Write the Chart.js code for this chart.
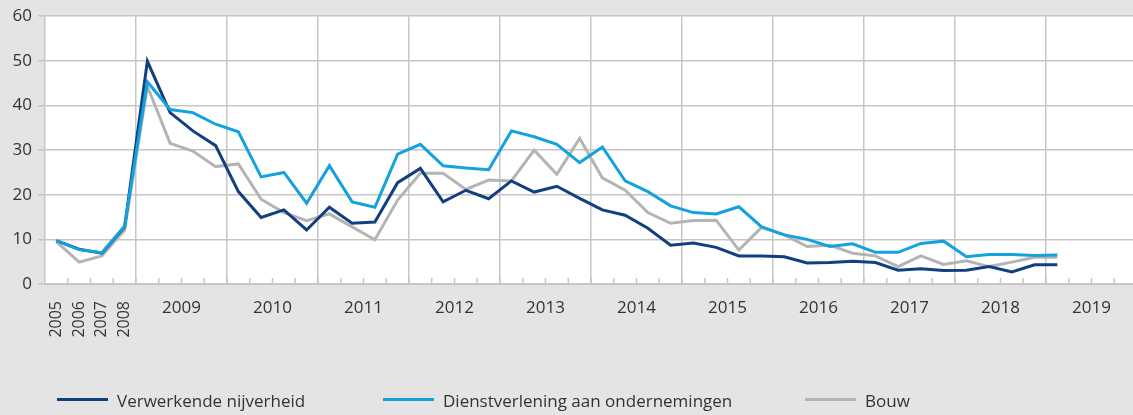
<!DOCTYPE html>
<html>
<head>
<meta charset="utf-8">
<script src="https://cdn.jsdelivr.net/npm/chart.js@4.4.0/dist/chart.umd.min.js"></script>
<style>
  html, body { margin: 0; padding: 0; background: #e4e4e4; overflow: hidden; }
  #wrap { position: relative; width: 1137px; height: 415px; }
  .leg { position: absolute; top: 390px; height: 22px; font: 17px "Open Sans", sans-serif; color: #333; }
  .leg span.line { position: absolute; left: 0; top: 8px; width: 51px; height: 3px; }
  .leg span.txt { position: absolute; left: 60px; top: -1px; white-space: nowrap; }
</style>
</head>
<body>
<div id="wrap">
  <canvas id="c" width="1137" height="415"></canvas>
  <div class="leg" style="left:57px"><span class="line" style="background:#123f80"></span><span class="txt">Verwerkende nijverheid</span></div>
  <div class="leg" style="left:383px"><span class="line" style="background:#14a2de"></span><span class="txt">Dienstverlening aan ondernemingen</span></div>
  <div class="leg" style="left:805px"><span class="line" style="background:#b4b4b4"></span><span class="txt">Bouw</span></div>
</div>
<script>
// 2005-2008 annual, then quarterly from 2009
let annual = ['2005', '2006', '2007', '2008'];
let quarterYears = ['2009', '2010', '2011', '2012', '2013', '2014', '2015', '2016', '2017', '2018', '2019'];

let labels = annual.slice();
quarterYears.forEach(y => { for (let q = 1; q <= 4; q++) labels.push(y + ' K' + q); });

let verwerkend = [9.7, 7.8, 6.9, 12.8,
  49.9, 38.4, 34.3, 31.0, 20.7, 14.9, 16.6, 12.1, 17.2, 13.6, 13.9,
  22.7, 25.9, 18.4, 21.0, 19.1, 23.1, 20.6, 21.9, 19.2, 16.6, 15.4, 12.5, 8.7,
  9.2, 8.2, 6.3, 6.3, 6.1, 4.7, 4.8, 5.1, 4.8, 3.1, 3.4, 3.0, 3.1, 3.9, 2.7, 4.3, 4.3];
let dienstverlening = [9.7, 7.7, 7.0, 13.0,
  45.3, 39.1, 38.4, 35.8, 34.1, 24.0, 25.0, 18.1, 26.5, 18.4, 17.2,
  29.1, 31.3, 26.5, 26.0, 25.6, 34.3, 33.0, 31.3, 27.2, 30.7, 23.1, 20.7, 17.5,
  16.0, 15.7, 17.3, 12.8, 11.0, 10.0, 8.4, 9.0, 7.1, 7.1, 9.1, 9.6, 6.1, 6.6, 6.6, 6.4, 6.5];
let bouw = [9.5, 4.9, 6.3, 12.1,
  44.3, 31.5, 29.8, 26.3, 26.9, 19.0, 16.0, 14.2, 15.7, 12.8, 9.9,
  18.8, 24.8, 24.8, 21.2, 23.3, 23.1, 30.0, 24.6, 32.6, 23.8, 21.0, 16.0, 13.6,
  14.2, 14.3, 7.6, 12.7, 11.0, 8.4, 8.7, 6.9, 6.3, 3.9, 6.3, 4.4, 5.2, 3.9, 4.9, 6.0, 6.0];

const gridGray = '#c6c6c6';
const textCol = '#333333';

const plotBg = {
  id: 'plotBg',
  beforeDraw(chart) {
    const a = chart.chartArea, ctx = chart.ctx;
    ctx.save();
    ctx.fillStyle = '#ffffff';
    ctx.fillRect(a.left, a.top, a.right - a.left, a.bottom - a.top);
    ctx.restore();
  }
};

const xLabels = {
  id: 'xLabels',
  afterDraw(chart) {
    const x = chart.scales.x, ctx = chart.ctx, a = chart.chartArea;
    const half = (x.getPixelForValue(1) - x.getPixelForValue(0)) / 2;
    ctx.save();
    // small inner tick marks at category boundaries
    ctx.strokeStyle = gridGray;
    ctx.lineWidth = 1.5;
    for (let i = 0; i < labels.length; i++) {
      const px = x.getPixelForValue(i) + half;
      ctx.beginPath();
      ctx.moveTo(px, a.bottom);
      ctx.lineTo(px, a.bottom - 6);
      ctx.stroke();
    }
    ctx.fillStyle = textCol;
    // rotated annual labels
    ctx.font = '16px "Open Sans", sans-serif';
    annual.forEach((lab, i) => {
      ctx.save();
      ctx.translate(x.getPixelForValue(i), a.bottom + 17);
      ctx.rotate(-Math.PI / 2);
      ctx.textAlign = 'right';
      ctx.textBaseline = 'middle';
      ctx.fillText(lab, 0, 0);
      ctx.restore();
    });
    // horizontal year labels centred on each year
    ctx.font = '17px "Open Sans", sans-serif';
    ctx.textAlign = 'center';
    ctx.textBaseline = 'middle';
    quarterYears.forEach((lab, k) => {
      const i = annual.length + k * 4;
      const px = (x.getPixelForValue(i + 1) + x.getPixelForValue(i + 2)) / 2;
      ctx.fillText(lab, px, a.bottom + 24);
    });
    ctx.restore();
  }
};

new Chart(document.getElementById('c'), {
  type: 'line',
  data: {
    labels: labels,
    datasets: [
      { label: 'Verwerkende nijverheid', data: verwerkend, borderColor: '#123f80', order: 1 },
      { label: 'Dienstverlening aan ondernemingen', data: dienstverlening, borderColor: '#14a2de', order: 0 },
      { label: 'Bouw', data: bouw, borderColor: '#b4b4b4', order: 2 }
    ]
  },
  options: {
    responsive: false,
    animation: false,
    devicePixelRatio: 1,
    layout: { padding: { top: 16, right: 0, left: 0, bottom: 0 } },
    elements: {
      line: { borderWidth: 3, tension: 0, borderJoinStyle: 'miter' },
      point: { radius: 0 }
    },
    plugins: {
      legend: { display: false },
      tooltip: { enabled: false }
    },
    scales: {
      x: {
        type: 'category',
        offset: true,
        ticks: { display: false },
        grid: {
          offset: true,
          drawTicks: false,
          lineWidth: 1.5,
          color: ctx => (ctx.index >= 4 && ctx.index % 4 === 0) ? gridGray : 'rgba(0,0,0,0)'
        },
        border: { display: true, color: gridGray, width: 2 },
        afterFit: s => { s.height = 131; }
      },
      y: {
        min: 0,
        max: 60,
        ticks: { stepSize: 10, color: textCol, font: { family: '"Open Sans", sans-serif', size: 17 }, padding: 6 },
        grid: { color: gridGray, lineWidth: 1.5, tickLength: 7 },
        border: { display: true, color: gridGray, width: 1.5 },
        afterFit: s => { s.width = 45; }
      }
    }
  },
  plugins: [plotBg, xLabels]
});
</script>
</body>
</html>
